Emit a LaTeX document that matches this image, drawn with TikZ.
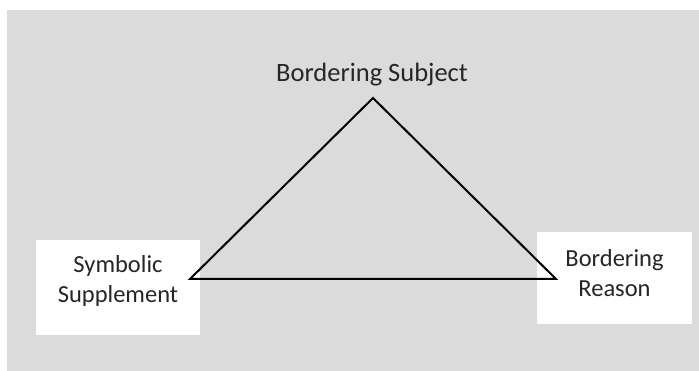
\documentclass[tikz,border=0pt]{standalone}
\usepackage{fontspec}
\setmainfont{Carlito}
\begin{document}
\begin{tikzpicture}[x=1pt,y=-1pt,
  lbl/.style={text=black!85, align=center, font=\fontsize{24.5}{30.5}\selectfont},
  boxnode/.style={fill=white, draw=none, inner sep=0pt},
  tri/.style={draw=black, line width=2pt, line join=miter}]
\useasboundingbox (0,0) rectangle (699,371);
\fill[white] (0,0) rectangle (699,371);
\fill[gray!28] (7,10) rectangle (699,371);
\node[boxnode, minimum width=164pt, minimum height=95pt] (ss) at (118,287.5) {};
\node[lbl] (sstext) at (118,281) {Symbolic\\Supplement};
\node[boxnode, minimum width=155pt, minimum height=92pt] (br) at (614.5,278) {};
\node[lbl] (brtext) at (614.5,273) {Bordering\\Reason};
\node[lbl, font=\fontsize{26.5}{30}\selectfont] (bs) at (372,75) {Bordering Subject};
\coordinate (A) at (373,98);
\coordinate (B) at (190,279);
\coordinate (C) at (556,279);
\draw[tri] (A) -- (B) -- (C) -- cycle;
\end{tikzpicture}
\end{document}
